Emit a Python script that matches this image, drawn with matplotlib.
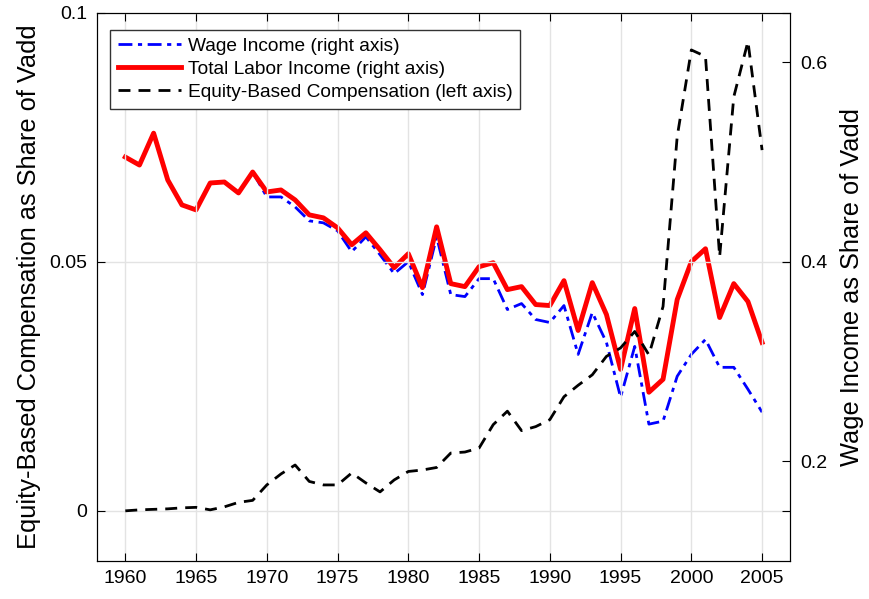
import matplotlib
matplotlib.use("Agg")
import matplotlib.pyplot as plt

plt.rcParams['font.family'] = ['Liberation Sans', 'DejaVu Sans']

years = list(range(1960, 2006))

# Equity-based compensation (left axis)
equity = [0.0000, 0.0002, 0.0003, 0.0004, 0.0006, 0.0007, 0.0002, 0.0008, 0.0017, 0.0021,
          0.0052, 0.0074, 0.0092, 0.0059, 0.0052, 0.0052, 0.0076, 0.0056, 0.0038, 0.0062,
          0.0079, 0.0082, 0.0087, 0.0116, 0.0118, 0.0126, 0.0173, 0.0200, 0.0161, 0.0169,
          0.0183, 0.0229, 0.0252, 0.0273, 0.0310, 0.0327, 0.0360, 0.0313, 0.0410, 0.0751,
          0.0925, 0.0912, 0.0510, 0.0831, 0.0942, 0.0724]

# Total labor income (right axis)
total_labor = [0.505, 0.497, 0.529, 0.482, 0.457, 0.452, 0.479, 0.480, 0.469, 0.490,
               0.470, 0.472, 0.462, 0.447, 0.444, 0.434, 0.417, 0.429, 0.412, 0.394,
               0.408, 0.374, 0.435, 0.378, 0.375, 0.395, 0.399, 0.372, 0.375, 0.357,
               0.356, 0.381, 0.331, 0.379, 0.347, 0.292, 0.353, 0.269, 0.282, 0.362,
               0.400, 0.413, 0.344, 0.378, 0.360, 0.319]

# Wage income (right axis)
wage = [0.505, 0.497, 0.529, 0.482, 0.457, 0.452, 0.479, 0.480, 0.469, 0.490,
        0.465, 0.465, 0.455, 0.441, 0.439, 0.431, 0.410, 0.425, 0.407, 0.388,
        0.400, 0.367, 0.425, 0.367, 0.365, 0.383, 0.383, 0.352, 0.358, 0.342,
        0.339, 0.356, 0.307, 0.349, 0.319, 0.264, 0.315, 0.237, 0.240, 0.285,
        0.307, 0.322, 0.294, 0.294, 0.272, 0.249]

fig = plt.figure(figsize=(8.7, 5.99), dpi=100)
ax = fig.add_axes([0.1115, 0.064, 0.797, 0.915])
ax2 = ax.twinx()

ax.set_zorder(2)
ax.patch.set_visible(False)

# lines
l_wage, = ax2.plot(years, wage, color='blue', linewidth=2, linestyle=(0, (5, 2, 1.5, 2)),
                   label='Wage Income (right axis)')
l_tot, = ax2.plot(years, total_labor, color='red', linewidth=3.5,
                  label='Total Labor Income (right axis)')
l_eq, = ax.plot(years, equity, color='black', linewidth=2, linestyle=(0, (4.3, 2.9)),
                label='Equity-Based Compensation (left axis)')

ax.set_xlim(1958, 2007)
ax.set_ylim(-0.01, 0.1)
ax2.set_ylim(0.1, 0.65)

ax.set_xticks(range(1960, 2006, 5))
ax.set_yticks([0, 0.05, 0.1])
ax.set_yticklabels(['0', '0.05', '0.1'])
ax2.set_yticks([0.2, 0.4, 0.6])
ax2.set_yticklabels(['0.2', '0.4', '0.6'])

ax.grid(True, color='#e3e3e3', linewidth=1)
ax.set_axisbelow(True)

ax.tick_params(axis='both', direction='in', top=True, right=True, labelsize=14, length=6, pad=7)
ax2.tick_params(axis='y', direction='in', labelsize=14, length=6, pad=7)

ax.set_ylabel('Equity-Based Compensation as Share of Vadd', fontsize=18.3, labelpad=6)
ax2.set_ylabel('Wage Income as Share of Vadd', fontsize=18.3, labelpad=9)

leg = ax.legend(handles=[l_wage, l_tot, l_eq], loc='upper left', fontsize=13.8,
                bbox_to_anchor=(0.019, 0.969), handlelength=3.3, handletextpad=0.35,
                borderpad=0.4, labelspacing=0.3, borderaxespad=0,
                fancybox=False, framealpha=1, edgecolor='#333333')
leg.get_frame().set_linewidth(1)

fig.savefig('out.png', dpi=100)
